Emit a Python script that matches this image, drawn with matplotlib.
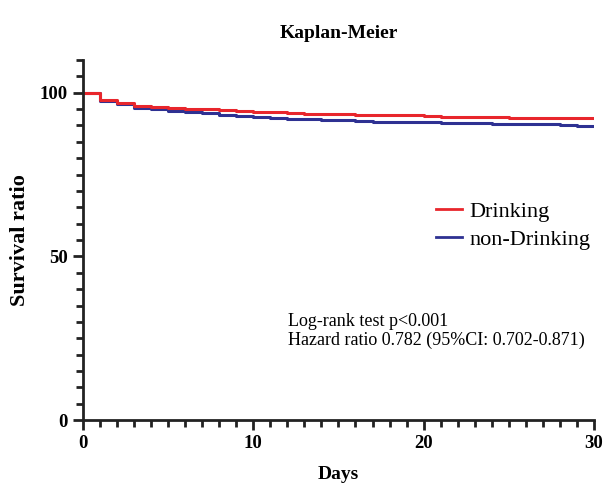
import matplotlib
matplotlib.use("Agg")
import matplotlib.pyplot as plt
from matplotlib.ticker import MultipleLocator

plt.rcParams['font.family'] = ['Liberation Serif', 'DejaVu Serif']

days = list(range(0, 31))
drinking = [100, 97.9, 96.8, 95.9, 95.5, 95.3, 95.1, 94.9, 94.7, 94.4, 94.2,
            94.0, 93.8, 93.6, 93.5, 93.4, 93.3, 93.2, 93.2, 93.2, 92.9,
            92.7, 92.6, 92.5, 92.5, 92.4, 92.4, 92.4, 92.2, 92.2, 92.2]
non_drinking = [100, 97.6, 96.5, 95.4, 94.9, 94.5, 94.0, 93.8, 93.2, 92.9, 92.5,
                92.3, 92.1, 91.9, 91.8, 91.5, 91.3, 91.1, 91.1, 91.1, 91.0,
                90.8, 90.7, 90.6, 90.4, 90.4, 90.3, 90.3, 90.1, 89.9, 89.9]

red = '#E8262C'
blue = '#2E3192'

fig = plt.figure(figsize=(6.06, 4.83), dpi=100)
ax = fig.add_axes([0.137, 0.130, 0.843, 0.746])

ax.step(days, non_drinking, where='post', color=blue, lw=2.2, label='non-Drinking')
ax.step(days, drinking, where='post', color=red, lw=2.2, label='Drinking')

ax.set_xlim(0, 30)
ax.set_ylim(0, 110)
ax.set_xticks([0, 10, 20, 30])
ax.set_yticks([0, 50, 100])
ax.xaxis.set_minor_locator(MultipleLocator(1))
ax.yaxis.set_minor_locator(MultipleLocator(5))
for s in ['top', 'right']:
    ax.spines[s].set_visible(False)
for s in ['left', 'bottom']:
    ax.spines[s].set_linewidth(2)
    ax.spines[s].set_color('#222222')
ax.tick_params(which='major', length=7, width=2, color='#222222', direction='out')
ax.tick_params(which='minor', length=5, width=2, color='#222222', direction='out')
for lab in ax.get_xticklabels() + ax.get_yticklabels():
    lab.set_fontweight('bold')
    lab.set_fontsize(13.5)
ax.tick_params(axis='x', pad=4)
ax.tick_params(axis='y', pad=4)

ax.set_xlabel('Days', fontsize=14, fontweight='bold', labelpad=10)
ax.set_ylabel('Survival ratio', fontsize=16, fontweight='bold', labelpad=7)
ax.set_title('Kaplan-Meier', fontsize=14, fontweight='bold', pad=16)

h, l = ax.get_legend_handles_labels()
leg = ax.legend([h[1], h[0]], [l[1], l[0]], loc='upper left', bbox_to_anchor=(0.652, 0.664),
                frameon=False, fontsize=16, handlelength=1.15, handletextpad=0.35,
                labelspacing=0.35)
for line in leg.get_lines():
    line.set_linewidth(2)

ax.text(0.401, 0.297, 'Log-rank test p<0.001\nHazard ratio 0.782 (95%CI: 0.702-0.871)',
        transform=ax.transAxes, fontsize=13, va='top', ha='left', linespacing=1.1)

fig.savefig('out.png', dpi=100)
